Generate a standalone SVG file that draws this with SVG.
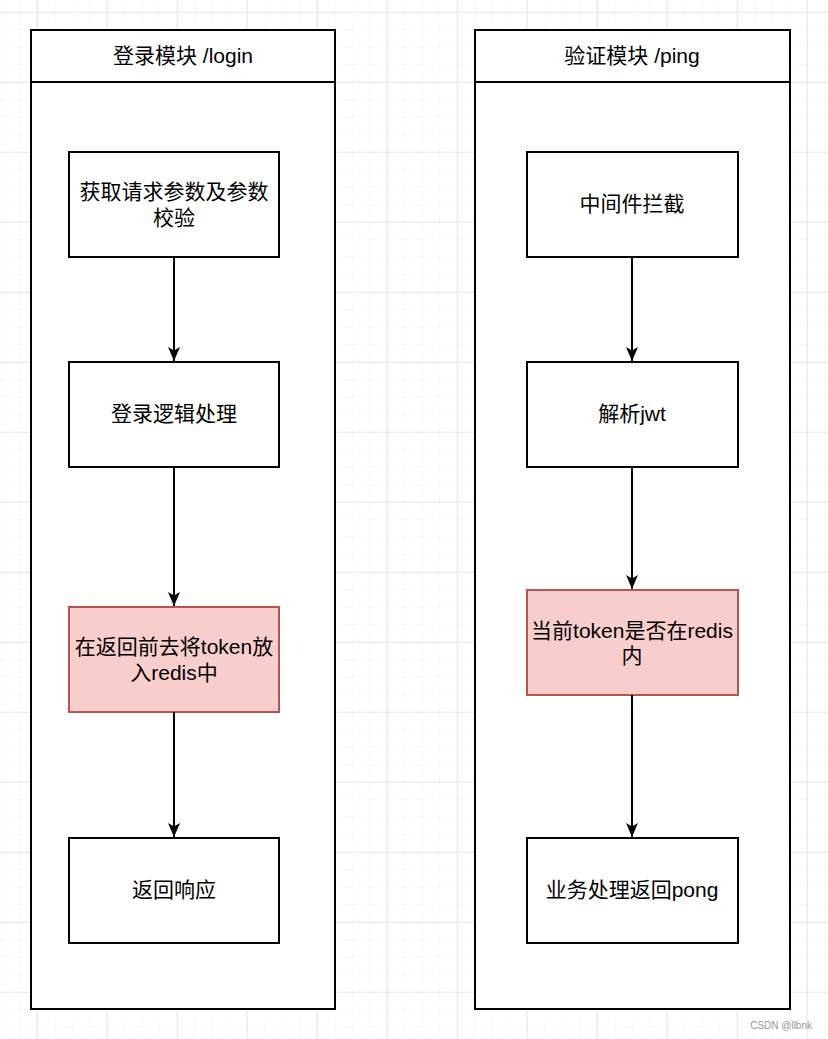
<svg xmlns="http://www.w3.org/2000/svg" width="828" height="1039" viewBox="0 0 828 1039">
<defs>
<pattern id="minor" x="1.7" y="11.7" width="17.5" height="17.5" patternUnits="userSpaceOnUse">
<path d="M0 0H17.5M0 0V17.5" fill="none" stroke="#f2f2f2" stroke-width="1"/>
</pattern>
<pattern id="major" x="36.7" y="11.7" width="70" height="70" patternUnits="userSpaceOnUse">
<path d="M0 0H70M0 0V70" fill="none" stroke="#d6d6d6" stroke-width="1"/>
</pattern>
<marker id="arr" viewBox="0 0 14 12" refX="14" refY="6" markerWidth="14" markerHeight="12" markerUnits="userSpaceOnUse" orient="auto">
<path d="M0 0L14 6L0 12L3.5 6Z" fill="#000"/>
</marker>
</defs>
<style>
.box{fill:#fff;stroke:#000;stroke-width:2}
.pink{fill:#f8cecc;stroke:#b85450;stroke-width:2}
.t{font-family:"Liberation Sans","Noto Sans CJK SC",sans-serif;font-size:21px;fill:#000;text-anchor:middle}
.c line{stroke:#000;stroke-width:2;marker-end:url(#arr)}
</style>
<rect width="828" height="1039" fill="#fff"/>
<rect width="828" height="1039" fill="url(#minor)"/>
<rect width="828" height="1039" fill="url(#major)"/>

<g id="login-module">
<rect class="box" x="31" y="30" width="304" height="979"/>
<line x1="31" y1="82" x2="335" y2="82" stroke="#000" stroke-width="2"/>
<text class="t" x="183" y="63">登录模块 /login</text>
</g>
<g id="ping-module">
<rect class="box" x="475" y="30" width="315" height="979"/>
<line x1="475" y1="82" x2="790" y2="82" stroke="#000" stroke-width="2"/>
<text class="t" x="632" y="63">验证模块 /ping</text>
</g>

<g id="n1"><rect class="box" x="69" y="152" width="210" height="105"/><text class="t" x="174" y="199">获取请求参数及参数</text><text class="t" x="174" y="225">校验</text></g>
<g id="n2"><rect class="box" x="69" y="362" width="210" height="105"/><text class="t" x="174" y="421">登录逻辑处理</text></g>
<g id="n3"><rect class="pink" x="69" y="607" width="210" height="105"/><text class="t" x="174" y="654">在返回前去将token放</text><text class="t" x="174" y="680">入redis中</text></g>
<g id="n4"><rect class="box" x="69" y="838" width="210" height="105"/><text class="t" x="174" y="897">返回响应</text></g>

<g id="m1"><rect class="box" x="527" y="152" width="211" height="105"/><text class="t" x="632" y="211">中间件拦截</text></g>
<g id="m2"><rect class="box" x="527" y="362" width="211" height="105"/><text class="t" x="632" y="421">解析jwt</text></g>
<g id="m3"><rect class="pink" x="527" y="590" width="211" height="105"/><text class="t" x="632" y="638">当前token是否在redis</text><text class="t" x="632" y="663">内</text></g>
<g id="m4"><rect class="box" x="527" y="838" width="211" height="105"/><text class="t" x="632" y="897">业务处理返回pong</text></g>

<g id="connectors" class="c">
<line x1="174" y1="257" x2="174" y2="361"/>
<line x1="174" y1="467" x2="174" y2="606"/>
<line x1="174" y1="712" x2="174" y2="837"/>
<line x1="632" y1="257" x2="632" y2="361"/>
<line x1="632" y1="467" x2="632" y2="589"/>
<line x1="632" y1="695" x2="632" y2="837"/>
</g>

<text x="812" y="1029" font-family="Liberation Sans, sans-serif" font-size="10" fill="#999" text-anchor="end">CSDN @llbnk</text>
</svg>
